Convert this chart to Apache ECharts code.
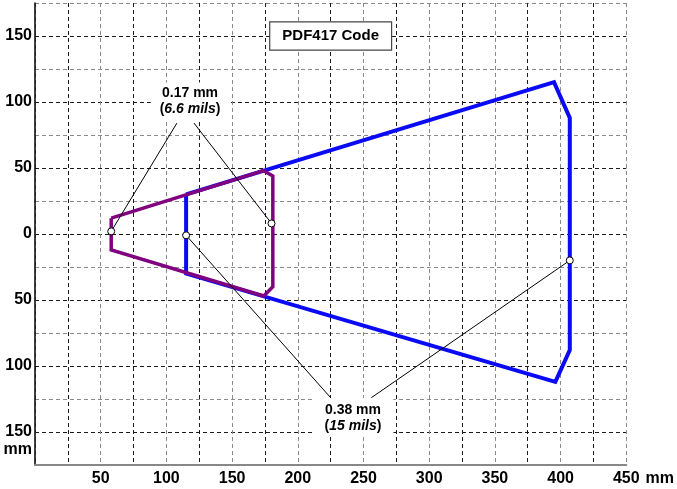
<!DOCTYPE html>
<html>
<head>
<meta charset="utf-8">
<style>
  html, body { margin: 0; padding: 0; background: #fff; }
  #chart { width: 677px; height: 489px; }
</style>
<script src="https://cdn.jsdelivr.net/npm/echarts@6/dist/echarts.min.js"></script>
</head>
<body>
<div id="chart"></div>
<script>
// Read zone outlines (mm): distance from the scanner (x) vs. field width (y)
const zone017 = [[58, 12], [174, 48], [181, 44], [181, -40], [174, -47], [58, -12], [58, 12]];
const zone038 = [[115, 30], [395, 115], [407, 88], [407, -88], [396, -112], [115, -30], [115, 30]];

// Points picked out by the resolution callouts
const callout017 = [[58, 2], [180, 8]];
const callout038 = [[115, -1], [407, -20]];

// Callout texts
const title = 'PDF417 Code';
const note017 = ['0.17 mm', '6.6 mils'];
const note038 = ['0.38 mm', '15 mils'];

// Axis tick label values
const xTickLabels = [50, 100, 150, 200, 250, 300, 350, 400, 450];
const yTickLabels = [-150, -100, -50, 0, 50, 100, 150];

// Where each callout text sits and where its leader lines leave it (axis units)
const anchor017 = [118, 100];
const anchor038 = [242, -139];
const anchorTitle = [225, 150];
const leaderFrom017 = [[108, 84], [121, 84]];
const leaderFrom038 = [[225, -124], [256, -124]];

const FONT = '"Liberation Sans", Arial, Helvetica, sans-serif';
const gridColors = ['#8a8a8a', '#1a1a1a'];

const chart = echarts.init(document.getElementById('chart'), null, { renderer: 'canvas' });

const leaderLines = [];
callout017.forEach((p, i) => leaderLines.push({ coords: [leaderFrom017[i], p] }));
callout038.forEach((p, i) => leaderLines.push({ coords: [leaderFrom038[i], p] }));

const noteRich = {
  a: { fontFamily: FONT, fontWeight: 'bold', fontSize: 14, color: '#000', lineHeight: 16 },
  i: { fontFamily: FONT, fontWeight: 'bold', fontStyle: 'italic', fontSize: 14, color: '#000', lineHeight: 16 }
};
const noteText = n => `{a|${n[0]}}\n{a|(}{i|${n[1]}}{a|)}`;

const option = {
  animation: false,
  backgroundColor: '#fff',
  grid: { left: 35, right: 49, top: 3, bottom: 24, containLabel: false },
  xAxis: {
    type: 'value',
    min: 0, max: 450, interval: 25,
    name: 'mm',
    nameLocation: 'end',
    nameGap: 19,
    nameTextStyle: {
      fontFamily: FONT, fontWeight: 'bold', fontSize: 16, color: '#000',
      verticalAlign: 'top', padding: [6, 0, 0, 0]
    },
    axisLine: { show: true, onZero: false, lineStyle: { color: '#888', width: 2 } },
    axisTick: { show: false },
    axisLabel: {
      showMaxLabel: true, showMinLabel: false,
      margin: 6,
      fontFamily: FONT, fontWeight: 'bold', fontSize: 16, color: '#000',
      formatter: v => (xTickLabels.includes(v) ? String(v) : '')
    },
    splitLine: { show: true, lineStyle: { color: gridColors, type: [4, 3], width: 1 } }
  },
  yAxis: {
    type: 'value',
    min: -175, max: 175, interval: 25,
    axisLine: { show: true, onZero: false, lineStyle: { color: '#000', width: 1.5 } },
    axisTick: { show: false },
    axisLabel: {
      margin: 3,
      fontFamily: FONT, fontWeight: 'bold', fontSize: 16, color: '#000',
      lineHeight: 18,
      formatter: v => {
        if (!yTickLabels.includes(v)) return '';
        if (v === yTickLabels[0]) return ' \n' + Math.abs(v) + '\nmm';
        return String(Math.abs(v));
      }
    },
    splitLine: { show: true, lineStyle: { color: gridColors, type: [4, 3], width: 1 } }
  },
  series: [
    {
      name: '0.38 mm',
      type: 'line',
      data: zone038,
      symbol: 'none',
      lineStyle: { color: '#0a0af5', width: 4, join: 'miter' },
      z: 3
    },
    {
      name: '0.17 mm',
      type: 'line',
      data: zone017,
      symbol: 'none',
      lineStyle: { color: '#800080', width: 3.5, join: 'miter' },
      z: 4
    },
    {
      name: 'leaders',
      type: 'lines',
      coordinateSystem: 'cartesian2d',
      data: leaderLines,
      lineStyle: { color: '#000', width: 1, opacity: 1 },
      z: 5
    },
    {
      name: 'callouts',
      type: 'scatter',
      data: callout017.concat(callout038),
      symbol: 'circle',
      symbolSize: 7,
      itemStyle: { color: '#fff', borderColor: '#000', borderWidth: 1, opacity: 1 },
      z: 6
    },
    {
      name: 'notes',
      type: 'scatter',
      symbolSize: 0,
      itemStyle: { opacity: 1 },
      z: 7,
      data: [
        {
          value: anchor017,
          label: {
            show: true, position: 'inside',
            formatter: noteText(note017),
            rich: noteRich,
            backgroundColor: '#fff',
            padding: [3, 9, 4, 9]
          }
        },
        {
          value: anchor038,
          label: {
            show: true, position: 'inside',
            formatter: noteText(note038),
            rich: noteRich,
            backgroundColor: '#fff',
            padding: [4, 12, 3, 12]
          }
        },
        {
          value: anchorTitle,
          label: {
            show: true, position: 'inside',
            formatter: title,
            fontFamily: FONT, fontWeight: 'bold', fontSize: 15, color: '#000',
            lineHeight: 18,
            backgroundColor: '#fff',
            borderColor: '#444', borderWidth: 1.2,
            padding: [5, 12, 4, 12]
          }
        }
      ]
    }
  ]
};

chart.setOption(option);
</script>
</body>
</html>
